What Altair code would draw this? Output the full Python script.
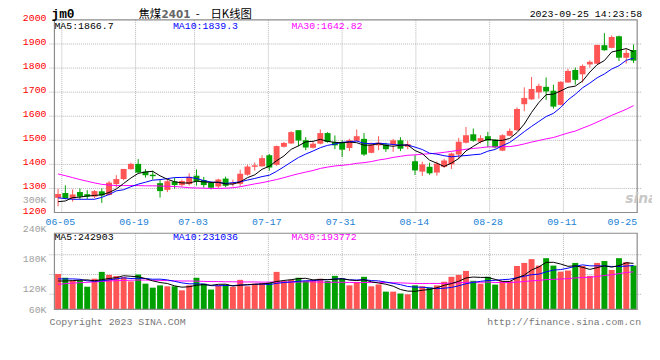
import altair as alt
import pandas as pd

# ---------------- data ----------------
opens = [1261, 1281, 1258, 1285, 1276, 1266, 1288, 1273, 1318, 1339,
         1380, 1402, 1370, 1357, 1322, 1294, 1329, 1314, 1318, 1353,
         1335, 1323, 1308, 1341, 1319, 1319, 1357, 1390, 1392, 1438,
         1398, 1473, 1487, 1542, 1500, 1469, 1486, 1530, 1493, 1490,
         1468, 1498, 1506, 1448, 1479, 1483, 1482, 1500, 1473, 1413,
         1370, 1390, 1366, 1390, 1400, 1441, 1490, 1525, 1494, 1517,
         1503, 1457, 1519, 1542, 1650, 1670, 1699, 1722, 1706, 1647,
         1740, 1792, 1774, 1815, 1818, 1895, 1884, 1932, 1843, 1875]
highs = [1298, 1313, 1296, 1300, 1293, 1293, 1300, 1331, 1355, 1381,
         1407, 1422, 1380, 1374, 1337, 1340, 1344, 1337, 1363, 1379,
         1348, 1329, 1341, 1349, 1337, 1378, 1398, 1408, 1438, 1443,
         1478, 1493, 1538, 1542, 1513, 1493, 1545, 1534, 1520, 1500,
         1506, 1545, 1530, 1491, 1517, 1490, 1506, 1513, 1498, 1438,
         1411, 1407, 1412, 1423, 1449, 1510, 1555, 1549, 1521, 1535,
         1505, 1525, 1549, 1637, 1720, 1763, 1735, 1761, 1731, 1745,
         1797, 1802, 1815, 1832, 1897, 1945, 1936, 1935, 1880, 1898]
lows = [1226, 1255, 1245, 1255, 1255, 1259, 1240, 1271, 1304, 1334,
        1378, 1365, 1345, 1337, 1262, 1285, 1299, 1308, 1312, 1312,
        1303, 1296, 1302, 1305, 1308, 1310, 1353, 1374, 1390, 1374,
        1394, 1470, 1484, 1475, 1459, 1466, 1483, 1490, 1463, 1431,
        1455, 1496, 1435, 1446, 1459, 1452, 1452, 1455, 1463, 1356,
        1352, 1357, 1353, 1385, 1381, 1422, 1487, 1494, 1487, 1471,
        1466, 1455, 1517, 1539, 1621, 1668, 1673, 1668, 1632, 1645,
        1739, 1731, 1740, 1802, 1817, 1872, 1882, 1829, 1819, 1821]
closes = [1277, 1259, 1275, 1266, 1266, 1289, 1271, 1324, 1339, 1381,
          1402, 1366, 1355, 1351, 1289, 1330, 1314, 1331, 1348, 1329,
          1314, 1303, 1337, 1311, 1324, 1361, 1391, 1396, 1426, 1387,
          1476, 1489, 1534, 1499, 1470, 1486, 1530, 1493, 1479, 1461,
          1500, 1517, 1441, 1482, 1490, 1463, 1500, 1465, 1484, 1375,
          1400, 1363, 1403, 1416, 1445, 1494, 1521, 1498, 1509, 1499,
          1471, 1521, 1539, 1630, 1676, 1713, 1726, 1703, 1640, 1743,
          1788, 1751, 1809, 1826, 1896, 1874, 1929, 1843, 1863, 1831]
ma5 = [1245, 1248, 1262, 1264, 1268.6, 1271, 1273.4, 1283.2, 1297.8, 1320.8,
       1343.4, 1362.4, 1368.6, 1371, 1352.6, 1338.2, 1327.8, 1323, 1322.4, 1330.4,
       1327.2, 1325, 1326.2, 1318.8, 1317.8, 1327.2, 1344.8, 1356.6, 1379.6, 1392.2,
       1415.2, 1434.8, 1462.4, 1477, 1493.6, 1495.6, 1503.8, 1495.6, 1491.6, 1489.8,
       1492.6, 1490, 1479.6, 1480.2, 1486, 1478.6, 1475.2, 1480, 1480.4, 1457.4,
       1444.8, 1417.4, 1405, 1391.4, 1405.4, 1424.2, 1455.8, 1474.8, 1493.4, 1504.2,
       1499.6, 1499.6, 1507.8, 1532, 1567.4, 1615.8, 1656.8, 1689.6, 1691.6, 1705,
       1720, 1725, 1746.2, 1783.4, 1814, 1831.2, 1866.8, 1873.6, 1881, 1868]
ma10 = [1261, 1258, 1255, 1255, 1255, 1255, 1263, 1275, 1290, 1294.7,
        1307.2, 1317.9, 1325.9, 1334.4, 1336.7, 1340.8, 1345.1, 1345.8, 1346.7, 1341.5,
        1332.7, 1326.4, 1324.6, 1320.6, 1324.1, 1327.2, 1334.9, 1341.4, 1349.2, 1355,
        1371.2, 1389.8, 1409.5, 1428.3, 1442.9, 1455.4, 1469.3, 1479, 1484.3, 1491.7,
        1494.1, 1496.9, 1487.6, 1485.9, 1487.9, 1485.6, 1482.6, 1479.8, 1480.3, 1471.7,
        1461.7, 1446.3, 1442.5, 1435.9, 1431.4, 1434.5, 1436.6, 1439.9, 1442.4, 1454.8,
        1461.9, 1477.7, 1491.3, 1512.7, 1535.8, 1557.7, 1578.2, 1598.7, 1611.8, 1636.2,
        1667.9, 1690.9, 1717.9, 1737.5, 1759.5, 1775.6, 1795.9, 1809.9, 1832.2, 1841]
ma30 = [1360, 1353, 1345, 1337, 1330, 1323, 1317, 1314, 1312, 1312,
        1312, 1312, 1311, 1311, 1310, 1309, 1308, 1306, 1303, 1302,
        1301, 1300, 1300, 1301, 1303, 1307, 1313, 1319, 1324, 1330.4,
        1337.0, 1344.7, 1353.3, 1361.1, 1367.9, 1374.5, 1383.1, 1388.7, 1393.4, 1396.1,
        1399.3, 1404.4, 1407.2, 1411.6, 1418.3, 1422.7, 1428.9, 1433.4, 1437.9, 1439.5,
        1442.3, 1444.3, 1446.5, 1450.0, 1454.1, 1458.5, 1462.8, 1466.2, 1469.0, 1472.7,
        1472.6, 1473.6, 1473.8, 1478.2, 1485.0, 1492.6, 1499.1, 1506.1, 1511.5, 1520.9,
        1530.5, 1538.3, 1550.6, 1562.0, 1575.6, 1589.3, 1603.6, 1616.2, 1628.8, 1644.0]
# volume, thousands of lots
volumes_k = [186, 166, 152, 152, 119, 161, 197, 181, 175, 169,
             147, 183, 135, 114, 126, 121, 121, 100, 126, 166,
             135, 104, 126, 130, 118, 155, 121, 135, 138, 140,
             197, 149, 155, 166, 149, 155, 161, 149, 176, 161,
             126, 144, 171, 121, 131, 93, 93, 83, 79, 126,
             121, 114, 126, 145, 171, 181, 202, 150, 135, 171,
             130, 149, 149, 228, 244, 264, 230, 269, 230, 198,
             204, 244, 228, 176, 244, 254, 207, 269, 249, 230]
vma5_k = [149, 149, 151, 153, 155, 150, 156.2, 162, 166.6, 176.6,
          173.8, 171, 161.8, 149.6, 141, 135.8, 123.4, 116.4, 118.8, 126.8,
          129.6, 126.2, 131.4, 132.2, 122.6, 126.6, 130, 131.8, 133.4, 137.8,
          146.2, 151.8, 155.8, 161.4, 163.2, 154.8, 157.2, 156, 158, 160.4,
          154.6, 151.2, 155.6, 144.6, 138.6, 132, 121.8, 104.2, 95.8, 94.8,
          100.4, 104.6, 113.2, 126.4, 135.4, 147.4, 165, 169.8, 167.8, 167.8,
          157.6, 147, 146.8, 165.4, 180, 206.8, 223, 247, 247.4, 238.2,
          226.2, 229, 220.8, 210, 219.2, 229.2, 221.8, 230, 244.6, 241.8]
vma10_k = [160, 160, 160, 158, 150, 148, 150, 155, 160, 165.8,
           161.9, 163.6, 161.9, 158.1, 158.8, 154.8, 147.2, 139.1, 134.2, 133.9,
           132.7, 124.8, 123.9, 125.5, 124.7, 128.1, 128.1, 131.6, 132.8, 130.2,
           136.4, 140.9, 143.8, 147.4, 150.5, 150.5, 154.5, 155.9, 159.7, 161.8,
           154.7, 154.2, 155.8, 151.3, 149.5, 143.3, 136.5, 129.9, 120.2, 116.7,
           116.2, 113.2, 108.7, 111.1, 115.1, 123.9, 134.8, 141.5, 147.1, 151.6,
           152.5, 156, 158.3, 166.6, 173.9, 182.2, 185, 196.9, 206.4, 209.1,
           216.5, 226, 233.9, 228.7, 228.7, 227.7, 225.4, 225.4, 227.3, 230.5]
vma30_k = [131, 135, 138, 140, 142, 144, 147, 149, 151, 152,
           153, 154, 154, 153, 152, 151, 150, 149, 149, 148,
           147, 146, 146, 145, 145, 144, 144, 144, 143, 143.3,
           143.7, 143.1, 143.2, 143.7, 144.7, 144.5, 143.3, 142.2, 142.2, 142.0,
           141.3, 140.0, 141.2, 141.4, 141.6, 140.6, 139.7, 139.1, 137.6, 136.2,
           135.8, 136.1, 136.1, 136.6, 138.4, 139.2, 141.9, 142.4, 142.3, 143.4,
           141.1, 141.1, 140.9, 143.0, 146.2, 149.8, 152.1, 156.1, 157.9, 159.1,
           161.7, 165.1, 167.0, 168.8, 172.6, 177.9, 181.7, 187.9, 193.6, 197.1]

tick_labels = ["06-05", "06-19", "07-03", "07-17", "07-31", "08-14", "08-28", "09-11", "09-25"]
tick_days = [1, 11, 19, 29, 39, 49, 59, 69, 79]
price_ticks = [1200, 1300, 1400, 1500, 1600, 1700, 1800, 1900, 2000]
vol_labels = ["300K", "240K", "180K", "120K", "60K"]
vol_label_values = [300000, 240000, 180000, 120000, 60000]
vol_grid = [287000, 183000, 79000]

# ---------------- styling ----------------
RED = "#ff5555"
GREEN = "#00a000"
GRID = "#b4b4b4"
BORDER = "#8c8c8c"
MONO = "Liberation Mono"
CJK = "Noto Sans CJK SC"

N = len(closes)
W, H = 600, 293
df = pd.DataFrame({
    "i": list(range(N)),
    "open": opens, "high": highs, "low": lows, "close": closes,
    "ma5": ma5, "ma10": ma10, "ma30": ma30,
    "vol": [v * 1000 for v in volumes_k],
    "vma5": [v * 1000 for v in vma5_k],
    "vma10": [v * 1000 for v in vma10_k],
    "vma30": [v * 1000 for v in vma30_k],
})
df["xc"] = df["i"] + 0.5
df["dir"] = ["up" if c >= o else "down" for o, c in zip(opens, closes)]

ticks = pd.DataFrame({"label": tick_labels,
                      "pos": [d * N / (tick_days[-1]) for d in tick_days]})

XS = alt.Scale(domain=[0, N], nice=False, zero=False)
PY = alt.Scale(domain=[1200, 2000], range=[195, 0], nice=False, zero=False)
VY = alt.Scale(domain=[0, 400000], range=[293, 216], nice=False, zero=False)
LY = alt.Scale(domain=[60000, 300000], range=[302, 182], nice=False, zero=False)
CS = alt.Scale(domain=["up", "down"], range=[RED, GREEN])

X = alt.X("xc:Q", scale=XS, axis=None)
one = pd.DataFrame({"a": [0]})

# grid lines
grid_h_main = alt.Chart(pd.DataFrame({"p": price_ticks[1:-1]})).mark_rule(
    color=GRID, strokeDash=[1, 1], strokeWidth=1).encode(
    y=alt.Y("p:Q", scale=PY, axis=None), x=alt.value(0), x2=alt.value(W))
grid_v_main = alt.Chart(ticks.iloc[:-1]).mark_rule(
    color=GRID, strokeDash=[1, 1], strokeWidth=1).encode(
    x=alt.X("pos:Q", scale=XS, axis=None),
    y=alt.YDatum(2000, scale=PY, axis=None, type="quantitative"), y2=alt.Y2Datum(1200))
grid_v_vol = alt.Chart(ticks.iloc[:-1]).mark_rule(
    color=GRID, strokeDash=[1, 1], strokeWidth=1).encode(
    x=alt.X("pos:Q", scale=XS, axis=None),
    y=alt.YDatum(400000, scale=VY, axis=None, type="quantitative"), y2=alt.Y2Datum(0))
grid_h_vol = alt.Chart(pd.DataFrame({"v": vol_grid})).mark_rule(
    color=GRID, strokeDash=[1, 1], strokeWidth=1).encode(
    y=alt.Y("v:Q", scale=VY, axis=None), x=alt.value(0), x2=alt.value(W))

# candles
wicks = alt.Chart(df).mark_rule(strokeWidth=1).encode(
    x=X, y=alt.Y("low:Q", scale=PY, axis=None), y2="high:Q",
    color=alt.Color("dir:N", scale=CS, legend=None))
bodies = alt.Chart(df).mark_bar(size=6, minBandSize=1).encode(
    x=X, y=alt.Y("open:Q", scale=PY, axis=None), y2="close:Q",
    color=alt.Color("dir:N", scale=CS, legend=None))

def price_line(field, color):
    return alt.Chart(df).mark_line(color=color, strokeWidth=1).encode(
        x=X, y=alt.Y(f"{field}:Q", scale=PY, axis=None))

def vol_line(field, color):
    return alt.Chart(df).mark_line(color=color, strokeWidth=1).encode(
        x=X, y=alt.Y(f"{field}:Q", scale=VY, axis=None))

vbars = alt.Chart(df).mark_bar(size=6).encode(
    x=X, y=alt.Y("vol:Q", scale=VY, axis=None), y2=alt.Y2Datum(0),
    color=alt.Color("dir:N", scale=CS, legend=None))

# frames
frame_main = alt.Chart(one).mark_rect(fillOpacity=0, stroke=BORDER, strokeWidth=1.2).encode(
    x=alt.XDatum(0, scale=XS, axis=None, type="quantitative"), x2=alt.X2Datum(N),
    y=alt.YDatum(1200, scale=PY, axis=None, type="quantitative"), y2=alt.Y2Datum(2000))
frame_vol = alt.Chart(one).mark_rect(fillOpacity=0, stroke=BORDER, strokeWidth=1.2).encode(
    x=alt.XDatum(0, scale=XS, axis=None, type="quantitative"), x2=alt.X2Datum(N),
    y=alt.YDatum(0, scale=VY, axis=None, type="quantitative"), y2=alt.Y2Datum(400000))

# axis labels
price_labels = alt.Chart(pd.DataFrame({"p": price_ticks})).mark_text(
    align="right", baseline="middle", font=MONO, fontSize=10, color="#ff0000", dy=-2).encode(
    y=alt.Y("p:Q", scale=PY, axis=None), x=alt.value(-3), text=alt.Text("p:Q", format="d"))
vol_axis_labels = alt.Chart(pd.DataFrame({"t": vol_labels[:-1], "v": vol_label_values[:-1]})).mark_text(
    align="right", baseline="middle", font=MONO, fontSize=10, color="#a0a0a0").encode(
    y=alt.Y("v:Q", scale=LY, axis=None), x=alt.value(-3), text="t:N")
vol_axis_last = alt.Chart(pd.DataFrame({"t": vol_labels[-1:], "v": vol_label_values[-1:]})).mark_text(
    align="right", baseline="middle", font=MONO, fontSize=10, color="#a0a0a0", dy=-8).encode(
    y=alt.Y("v:Q", scale=LY, axis=None), x=alt.value(-3), text="t:N")
date_labels = alt.Chart(ticks.iloc[:-1]).mark_text(
    align="center", baseline="middle", font=MONO, fontSize=10, color="#1a7fd4", dx=-1.5).encode(
    x=alt.X("pos:Q", scale=XS, axis=None), y=alt.value(204.5), text="label:N")
date_last = alt.Chart(ticks.iloc[-1:]).mark_text(
    align="right", baseline="middle", font=MONO, fontSize=10, color="#1a7fd4").encode(
    x=alt.X("pos:Q", scale=XS, axis=None), y=alt.value(204.5), text="label:N")


def label(text, x, y, color="#000000", size=10, align="left", font=MONO,
          weight="normal", style="normal", baseline="middle"):
    return alt.Chart(pd.DataFrame({"t": [text]})).mark_text(
        align=align, baseline=baseline, font=font, fontSize=size, color=color,
        fontWeight=weight, fontStyle=style).encode(
        x=alt.value(x), y=alt.value(y), text="t:N")

texts = [
    label("jm0", 2, -2, size=13, weight="bold", baseline="alphabetic"),
    label("焦煤", 90, -1.5, size=11.5, font=CJK, baseline="alphabetic"),
    label("2401", 113.5, -2, size=10.5, font="DejaVu Sans", color="#666666",
          weight="bold", baseline="alphabetic"),
    label("-", 148, -1.5, size=11.5, font=CJK, baseline="alphabetic"),
    label("日K线图", 163, -1.5, size=11.5, font=CJK, baseline="alphabetic"),
    label("2023-09-25 14:23:58", 600, -2.5, align="right", baseline="alphabetic"),
    label("MA5:1866.7", 5, 6.2),
    label("MA10:1839.3", 125, 6.2, color="#0000ff"),
    label("MA30:1642.82", 245, 6.2, color="#ff00ff"),
    label("MA5:242903", 5, 220.3),
    label("MA10:231036", 125, 220.3, color="#0000ff"),
    label("MA30:193772", 245, 220.3, color="#ff00ff"),
    label("Copyright 2023 SINA.COM", 0, 305.5, color="#777777"),
    label("http://finance.sina.com.cn", 599, 306, color="#777777", align="right"),
    label("sina", 583, 181, color="#c8c8c8", size=14, font="DejaVu Sans", weight="bold", style="italic"),
]

chart = alt.layer(
    grid_h_main, grid_v_main, grid_v_vol, grid_h_vol,
    vbars, vol_line("vma30", "#ff00ff"), vol_line("vma10", "#0000ff"), vol_line("vma5", "#000000"),
    wicks, bodies,
    price_line("ma30", "#ff00ff"), price_line("ma10", "#0000ff"), price_line("ma5", "#000000"),
    frame_main, frame_vol,
    price_labels, vol_axis_labels, vol_axis_last, date_labels, date_last,
    *texts,
).resolve_scale(y="independent", color="independent").properties(
    width=W, height=H,
    autosize=alt.AutoSizeParams(type="none"),
    padding={"left": 42, "top": 10, "right": 10, "bottom": 30},
).configure_view(strokeWidth=0)

chart.save("out.html", embed_options={"renderer": "svg", "actions": False})
